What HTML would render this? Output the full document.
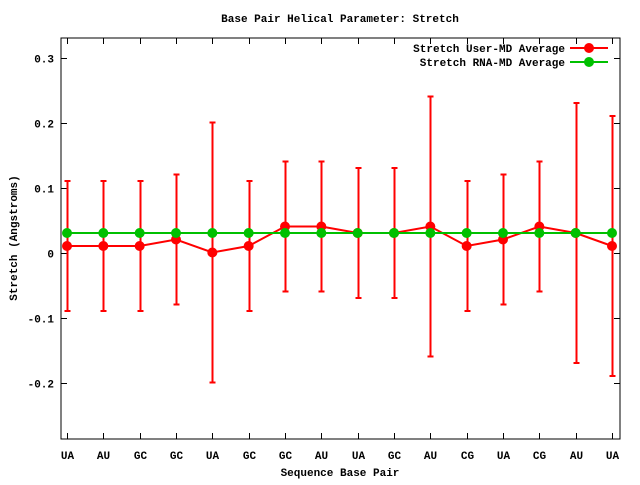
<!DOCTYPE html>
<html><head><meta charset="utf-8"><style>
body{margin:0;background:#fff}
svg text{font-family:"Liberation Mono",monospace;font-size:11px;font-weight:bold;fill:#000}
</style></head><body>
<svg id="chart" width="640" height="480">
<text x="340" y="22" text-anchor="middle">Base Pair Helical Parameter: Stretch</text>
<text x="340" y="476" text-anchor="middle">Sequence Base Pair</text>
<text transform="translate(17,238) rotate(-90)" text-anchor="middle">Stretch (Angstroms)</text>
<g id="axes"></g>
<g id="series"></g>
<g id="legend">
<text x="565" y="52" text-anchor="end">Stretch User-MD Average</text>
<line x1="570" y1="48" x2="608" y2="48" stroke="#ff0000" stroke-width="2"/>
<circle cx="589" cy="48" r="5" fill="#ff0000"/>
<text x="565" y="66" text-anchor="end">Stretch RNA-MD Average</text>
<line x1="570" y1="62" x2="608" y2="62" stroke="#00c000" stroke-width="2"/>
<circle cx="589" cy="62" r="5" fill="#00c000"/>
</g>
<rect x="61" y="38" width="559" height="401" fill="none" stroke="#000" stroke-width="1"/>
</svg>
<script>
const categories=["UA","AU","GC","GC","UA","GC","GC","AU","UA","GC","AU","CG","UA","CG","AU","UA"];
const userValues=[0.01,0.01,0.01,0.02,0.00,0.01,0.04,0.04,0.03,0.03,0.04,0.01,0.02,0.04,0.03,0.01];
const userErrors=[0.1,0.1,0.1,0.1,0.2,0.1,0.1,0.1,0.1,0.1,0.2,0.1,0.1,0.1,0.2,0.2];
const rnaValues=[0.03,0.03,0.03,0.03,0.03,0.03,0.03,0.03,0.03,0.03,0.03,0.03,0.03,0.03,0.03,0.03];
const yTicks=[-0.2,-0.1,0,0.1,0.2,0.3];
const yTickLabels=["-0.2","-0.1","0","0.1","0.2","0.3"];

const NS="http://www.w3.org/2000/svg";
const L=61,R=620,T=38,B=439;
const x=i=>67+i*(612-67)/(categories.length-1);
const y=v=>252.5-v*650;
function mk(tag,attrs,parent){const e=document.createElementNS(NS,tag);for(const k in attrs)e.setAttribute(k,attrs[k]);parent.appendChild(e);return e;}
const axes=document.getElementById('axes'),series=document.getElementById('series');
yTicks.forEach((v,i)=>{
  const yy=Math.round(y(v))+0.5;
  const t=mk('line',{x1:L,x2:L+6,y1:yy,y2:yy,stroke:'#000'},axes);
  
  
  const t2=mk('line',{x1:R-6,x2:R,y1:yy,y2:yy,stroke:'#000'},axes);
  
  
  const lb=mk('text',{x:54,y:yy+4,'text-anchor':'end'},axes);
  lb.textContent=yTickLabels[i];
  
  
});
categories.forEach((c,i)=>{
  const xx=Math.round(x(i))+0.5;
  const t=mk('line',{x1:xx,x2:xx,y1:B-6,y2:B,stroke:'#000'},axes);
  
  
  const t2=mk('line',{x1:xx,x2:xx,y1:T,y2:T+6,stroke:'#000'},axes);
  
  
  const lb=mk('text',{x:xx,y:459,'text-anchor':'middle'},axes);
  lb.textContent=c;
  
  
});
// user series error bars
userValues.forEach((v,i)=>{
  const xx=Math.round(x(i))+0.5,hi=y(v+userErrors[i]),lo=y(v-userErrors[i]);
  const g=mk('g',{stroke:'#ff0000','stroke-width':2},series);
  
  
  mk('line',{x1:xx,x2:xx,y1:hi,y2:lo},g);
  mk('line',{x1:xx-3,x2:xx+3,y1:hi,y2:hi},g);
  mk('line',{x1:xx-3,x2:xx+3,y1:lo,y2:lo},g);
});
const up=mk('polyline',{points:userValues.map((v,i)=>x(i)+','+y(v)).join(' '),fill:'none',stroke:'#ff0000','stroke-width':2},series);


userValues.forEach((v,i)=>{
  const c=mk('circle',{cx:x(i),cy:y(v),r:5,fill:'#ff0000'},series);
  
  
});
const gp=mk('polyline',{points:rnaValues.map((v,i)=>x(i)+','+y(v)).join(' '),fill:'none',stroke:'#00c000','stroke-width':2},series);


rnaValues.forEach((v,i)=>{
  const c=mk('circle',{cx:x(i),cy:y(v),r:5,fill:'#00c000'},series);
  
  
});
</script>
</body></html>
